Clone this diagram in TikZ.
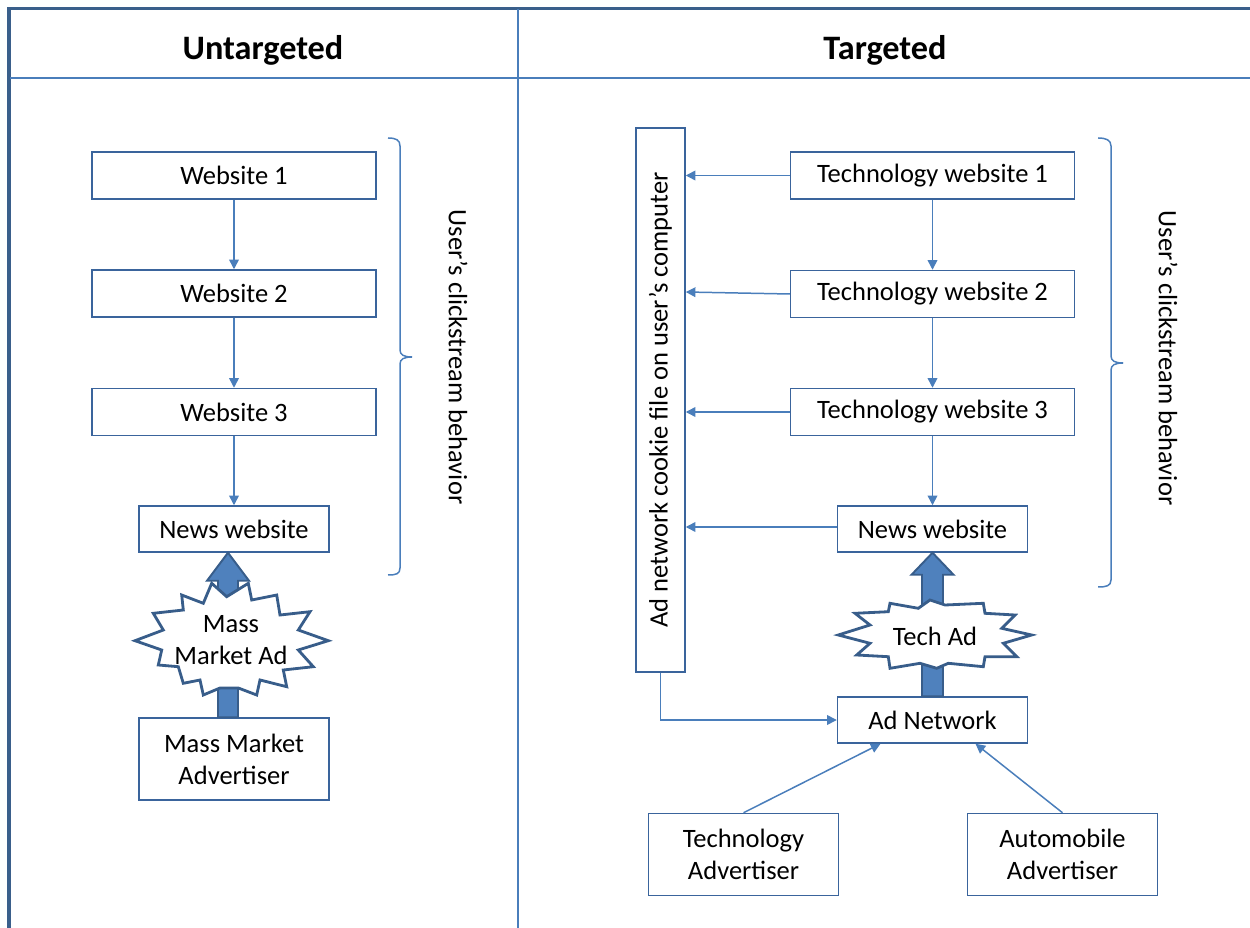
\documentclass[tikz,border=0pt]{standalone}
\usepackage{fontspec}
\setmainfont{Carlito}
\usetikzlibrary{arrows.meta,calc}
\definecolor{frameblue}{HTML}{3A5F8B}
\definecolor{lineblue}{HTML}{4A7EBB}
\definecolor{boxblue}{HTML}{3A649C}
\definecolor{fatfill}{HTML}{4F81BD}
\definecolor{fatedge}{HTML}{385D8A}

\begin{document}
\begin{tikzpicture}[x=0.02cm,y=-0.02cm,
  box/.style={draw=boxblue,line width=0.85pt,fill=white,inner sep=0pt,align=center,
              font=\fontsize{15.1}{18.2}\selectfont},
  wide/.style={box,minimum width=5.68cm,minimum height=0.94cm},
  narrow/.style={box,minimum width=3.8cm,minimum height=0.92cm},
  tallbox/.style={box,minimum width=3.8cm,minimum height=1.64cm},
  flow/.style={draw=lineblue,line width=0.85pt,-{Triangle[length=5.5pt,width=5.5pt]}},
  fat/.style={fill=fatfill,draw=fatedge,line width=1.1pt,line join=miter},
  burst/.style={fill=white,draw=fatedge,line width=1.6pt,line join=miter},
  brace/.style={draw=lineblue,line width=0.85pt},
  lbl/.style={font=\fontsize{15.1}{18.2}\selectfont,align=center,inner sep=0pt},
  head/.style={font=\bfseries\fontsize{19.5}{23}\selectfont,inner sep=0pt}]

\useasboundingbox (0,0) rectangle (1250,928);

% table frame
\draw[frameblue,line width=2.1pt] (9,928) -- (9,8.5) -- (1250,8.5);
\draw[lineblue,line width=1.1pt] (10,78) -- (1250,78);
\draw[lineblue,line width=1.3pt] (518,9) -- (518,928);

\node[head] (hu) at (263,50) {Untargeted};
\node[head] (ht) at (885,50) {Targeted};

% ---------- untargeted column ----------
\node[wide] (w1) at (234,175.5) {Website 1};
\node[wide] (w2) at (234,293.5) {Website 2};
\node[wide] (w3) at (234,412) {Website 3};
\node[narrow] (ln) at (234,529) {News website};
\node[tallbox] (madv) at (234,759) {Mass Market\\Advertiser};

\draw[flow] (w1.south) -- (w2.north);
\draw[flow] (w2.south) -- (w3.north);
\draw[flow] (w3.south) -- (ln.north);

% thick arrow advertiser -> news website
\draw[fat] ($(madv.north)+(-16,0)$) -- ($(ln.south)+(-16,28)$) -- ($(ln.south)+(-27,28)$)
  -- ($(ln.south)+(-6,0)$) -- ($(ln.south)+(15,28)$) -- ($(ln.south)+(4,28)$)
  -- ($(madv.north)+(4,0)$) -- cycle;

% explosion around the ad
\draw[burst] (135,640.7) -- (163.3,630) -- (153.3,613.3) -- (183.3,610) -- (181.7,595)
  -- (203.3,603.3) -- (211.7,583.3) -- (226.7,596.7) -- (248.3,583.3) -- (251.7,600)
  -- (276.7,595) -- (280,615) -- (310,611.7) -- (298.3,630) -- (328.3,640.7)
  -- (298.3,650) -- (313.3,666.7) -- (283.3,670) -- (286.7,686.7) -- (260,680)
  -- (256.7,695) -- (238.3,688) -- (220,688) -- (203.3,695) -- (200,680) -- (183.3,683.3)
  -- (178.3,666.7) -- (158.3,665) -- (161.7,650) -- cycle;
\node[lbl] (mad) at (231,640) {Mass\\Market Ad};

% brace and label
\draw[brace] (388,138) .. controls (396,138) and (400,140) .. (400,146) -- (400,350)
  .. controls (400,355) and (404,357) .. (412,357);
\draw[brace] (412,357) .. controls (404,357) and (400,359) .. (400,364) -- (400,568)
  .. controls (400,574) and (396,575) .. (388,575);
\node[lbl,rotate=-90] (lcs) at (458,357) {User’s clickstream behavior};

% ---------- targeted column ----------
\node[box,rotate=90,minimum width=10.88cm,minimum height=0.98cm] (ck) at (660.5,400)
  {Ad network cookie file on user’s computer};
\node[wide] (t1) at (932.5,175.5) {Technology website 1};
\node[wide] (t2) at (932.5,294) {Technology website 2};
\node[wide] (t3) at (932.5,412) {Technology website 3};
\node[narrow] (rn) at (932.5,529) {News website};
\node[narrow] (an) at (932.5,720) {Ad Network};
\node[tallbox] (tadv) at (743.5,854.5) {Technology\\Advertiser};
\node[tallbox] (aadv) at (1062.5,854.5) {Automobile\\Advertiser};

\draw[flow] (t1.south) -- (t2.north);
\draw[flow] (t2.south) -- (t3.north);
\draw[flow] (t3.south) -- (rn.north);

\draw[flow] (t1.west) -- (t1.west -| ck.south);
\draw[flow] (t2.west) -- ($(t2.west -| ck.south)+(0,-2)$);
\draw[flow] (t3.west) -- (t3.west -| ck.south);
\draw[flow] ($(rn.west)+(0,-2)$) -- ($(rn.west -| ck.south)+(0,-2)$);

\draw[flow] (ck.west) |- (an.west);
\draw[flow] (tadv.north) -- ($(an.south)+(-52,0)$);
\draw[flow] (aadv.north) -- ($(an.south)+(43,0)$);

% thick arrow ad network -> news website
\draw[fat] ($(an.north)+(-10.5,0)$) -- ($(rn.south)+(-10.5,22)$) -- ($(rn.south)+(-21,22)$)
  -- (rn.south) -- ($(rn.south)+(21,22)$) -- ($(rn.south)+(10.5,22)$)
  -- ($(an.north)+(10.5,0)$) -- cycle;

\draw[burst] (838.3,635) -- (870,625) -- (855,613.3) -- (888.3,611.7) -- (890,603.3)
  -- (918.3,608.3) -- (930,600) -- (945,605) -- (983.3,603.3) -- (985,613.3)
  -- (1015,615) -- (1001.7,628.3) -- (1031.7,635) -- (1003.3,643.3) -- (1016.7,656.7)
  -- (985,656.7) -- (983.3,666.7) -- (948.3,663.3) -- (936.7,668.3) -- (920,663.3)
  -- (890,668.3) -- (888.3,656.7) -- (856.7,655) -- (870,643.3) -- cycle;
\node[lbl] (tad) at (935,636) {Tech Ad};

\draw[brace] (1098,138) .. controls (1106,138) and (1111,140) .. (1111,146) -- (1111,356)
  .. controls (1111,361) and (1115,363) .. (1123,363);
\draw[brace] (1123,363) .. controls (1115,363) and (1111,365) .. (1111,370) -- (1111,580)
  .. controls (1111,586) and (1106,587) .. (1098,587);
\node[lbl,rotate=-90] (rcs) at (1168,358) {User’s clickstream behavior};

\end{tikzpicture}
\end{document}
